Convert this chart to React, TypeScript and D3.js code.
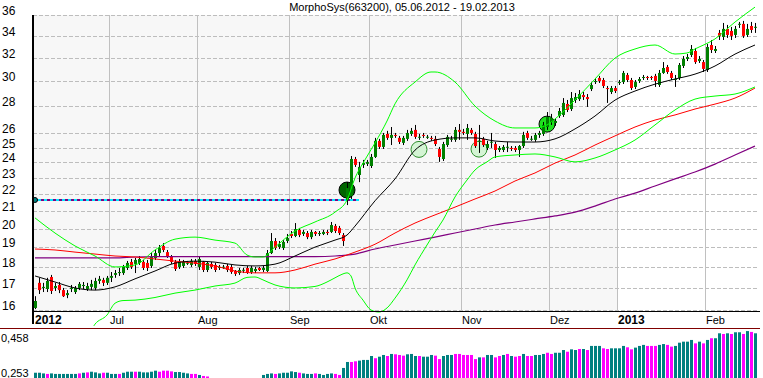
import React from 'react';
import * as d3 from 'd3';

const TITLE = 'MorphoSys(663200), 05.06.2012 - 19.02.2013';
const START = '2012-06-05';
const END = '2013-02-19';
const HOLIDAYS = ['2012-12-24', '2012-12-25', '2012-12-26', '2012-12-31', '2013-01-01'];
const MONTHS_DE = ['Jan', 'Feb', 'Mär', 'Apr', 'Mai', 'Jun', 'Jul', 'Aug', 'Sep', 'Okt', 'Nov', 'Dez'];

const Y_TICKS = [16, 17, 18, 19, 20, 21, 22, 23, 24, 25, 26, 28, 30, 32, 34, 36];
const IND_TICKS = [0.458, 0.253];
const IND_TICK_LABELS = ['0,458', '0,253'];

// OHLC, one value per trading day (Jun, Jul, Aug, Sep, Oct, Nov, Dec, Jan, Feb)
const OPEN = [
  16.09, 17.24, 17.00, 16.95, 17.52, 17.00, 17.14, 16.90, 16.67, 16.95, 16.81, 17.00, 17.09, 16.95, 17.05, 17.00, 17.33, 17.38, 17.24,
  17.48, 17.62, 17.71, 17.71, 17.96, 18.26, 18.16, 18.21, 18.26, 18.21, 18.06, 18.46, 18.71, 19.08, 18.76, 18.51, 18.26, 18.01, 18.06, 18.21, 18.11, 18.31,
  18.01, 18.26, 17.86, 18.16, 18.11, 17.96, 18.01, 18.06, 18.01, 17.81, 17.71, 17.86, 17.96, 17.76, 17.81, 17.96, 17.86, 17.81, 18.71, 19.34, 19.02, 18.97, 19.34,
  19.72, 19.61, 19.94, 19.72, 19.77, 19.55, 19.83, 19.72, 19.72, 19.83, 19.83, 20.16, 20.05, 19.66, 21.65, 21.89, 24.23, 23.19, 23.84, 23.91,
  23.77, 24.37, 25.47, 25.05, 25.96, 25.68, 25.89, 25.68, 25.33, 25.61, 25.96, 26.25, 25.75, 25.89, 25.75, 25.68, 25.61, 24.91, 24.23, 25.18, 25.61, 25.54, 26.25,
  26.11, 25.96, 26.25, 25.96, 25.47, 25.61, 24.98, 25.40, 25.25, 24.84, 24.84, 25.05, 24.98, 24.98, 24.84, 25.11, 26.03, 25.61, 25.54, 25.89, 25.96, 26.46,
  26.83, 26.75, 27.28, 27.35, 28.19, 27.80, 28.50, 28.57, 28.89, 28.73, 29.37, 29.94, 30.28, 30.11, 29.45, 29.13, 29.45,
  29.86, 29.94, 30.53, 30.11, 29.54, 30.03, 30.28, 30.36, 30.36, 30.45, 29.70, 30.70, 31.21, 30.70, 30.19, 30.28, 31.30, 31.90, 32.25, 32.61, 31.72, 31.63,
  30.95, 33.15, 32.61, 34.27, 33.89, 34.65, 34.46, 34.08, 35.13, 35.13, 34.08, 34.93, 34.84,
];
const HIGH = [
  16.62, 17.48, 17.24, 17.48, 17.62, 17.24, 17.28, 17.00, 16.90, 17.14, 17.09, 17.28, 17.28, 17.24, 17.38, 17.48, 17.57, 17.48, 17.57,
  17.76, 17.86, 17.96, 18.11, 18.31, 18.41, 18.46, 18.56, 18.36, 18.36, 18.71, 18.87, 19.13, 19.23, 18.87, 18.61, 18.36, 18.41, 18.36, 18.31, 18.41, 18.41,
  18.51, 18.31, 18.26, 18.26, 18.21, 18.11, 18.11, 18.16, 18.11, 17.86, 17.96, 17.96, 18.06, 18.06, 18.01, 18.01, 18.06, 18.87, 19.77, 19.50, 19.34, 19.39, 19.72,
  19.88, 20.32, 20.05, 19.94, 19.88, 19.94, 19.88, 19.88, 19.94, 19.94, 20.38, 20.27, 20.16, 19.77, 22.74, 24.43, 24.37, 24.04, 24.17, 24.17,
  24.57, 25.68, 25.61, 26.03, 26.18, 26.46, 26.03, 25.82, 25.82, 26.25, 26.39, 26.61, 25.96, 26.03, 25.89, 25.82, 25.82, 25.05, 25.40, 25.89, 25.82, 26.46, 26.68,
  26.32, 26.68, 26.39, 26.11, 26.61, 25.75, 25.47, 26.03, 25.40, 25.11, 25.18, 25.40, 25.11, 25.11, 25.18, 26.11, 26.18, 25.82, 26.03, 26.18, 26.83, 27.57,
  27.43, 27.05, 27.88, 28.65, 28.50, 29.13, 29.05, 29.29, 29.13, 28.97, 29.94, 30.28, 30.45, 30.28, 29.62, 29.62, 29.62,
  30.11, 30.87, 30.70, 30.28, 30.11, 30.36, 30.53, 30.45, 30.45, 30.62, 30.95, 31.63, 31.38, 30.87, 30.53, 31.55, 32.16, 32.34, 33.15, 32.88, 32.16, 31.81,
  33.24, 33.61, 33.06, 34.55, 35.22, 35.03, 34.84, 34.93, 35.32, 35.42, 35.13, 35.32, 35.22,
];
const LOW = [
  16.04, 16.72, 16.81, 16.81, 16.72, 16.86, 16.76, 16.58, 16.53, 16.81, 16.72, 16.90, 16.95, 16.86, 16.90, 16.90, 17.19, 17.09, 17.14,
  17.28, 17.48, 17.57, 17.62, 17.86, 17.91, 17.71, 18.11, 17.86, 17.81, 17.96, 18.36, 18.56, 18.76, 18.46, 18.16, 17.81, 17.91, 17.96, 18.11, 18.01, 18.06,
  17.86, 17.76, 17.76, 17.91, 17.76, 17.86, 17.91, 17.76, 17.67, 17.57, 17.62, 17.71, 17.67, 17.67, 17.71, 17.81, 17.76, 17.76, 18.66, 18.87, 18.92, 18.87, 19.23,
  19.50, 19.55, 19.55, 19.61, 19.44, 19.44, 19.61, 19.61, 19.66, 19.66, 19.77, 19.77, 19.66, 19.08, 21.35, 21.71, 23.71, 22.74, 23.64, 23.77,
  23.64, 24.30, 24.91, 24.91, 25.54, 25.18, 25.68, 25.25, 25.18, 25.47, 25.82, 25.61, 25.54, 25.68, 25.61, 25.47, 25.11, 24.04, 24.10, 25.05, 25.40, 25.40, 25.54,
  25.89, 25.54, 25.89, 24.98, 24.64, 25.05, 24.84, 24.98, 24.30, 24.70, 24.70, 24.70, 24.77, 24.70, 24.37, 24.98, 25.54, 25.47, 25.40, 25.68, 25.82, 26.25,
  26.61, 26.54, 27.13, 27.20, 27.57, 27.65, 28.27, 28.42, 28.50, 27.96, 29.21, 29.78, 29.86, 29.45, 28.27, 28.97, 29.05,
  29.70, 29.78, 29.94, 29.29, 29.37, 29.86, 30.11, 30.11, 30.11, 29.54, 29.54, 30.62, 30.62, 30.11, 29.54, 30.11, 31.12, 31.72, 32.07, 31.47, 31.55, 30.78,
  30.78, 32.43, 32.43, 33.61, 33.61, 33.80, 33.61, 33.80, 34.74, 33.80, 33.89, 34.27, 34.27,
];
const CLOSE = [
  16.40, 16.90, 17.05, 17.33, 16.86, 17.09, 16.90, 16.62, 16.76, 17.00, 17.00, 17.19, 17.14, 17.09, 17.19, 17.33, 17.43, 17.24, 17.48,
  17.57, 17.71, 17.76, 18.01, 18.21, 18.01, 18.36, 18.41, 17.96, 17.96, 18.51, 18.71, 18.97, 18.87, 18.56, 18.26, 17.91, 18.26, 18.26, 18.22, 18.31, 18.16,
  18.41, 17.86, 18.21, 18.01, 17.86, 18.01, 18.02, 17.86, 17.76, 17.67, 17.86, 17.87, 17.76, 17.96, 17.91, 17.86, 17.96, 18.71, 19.34, 18.97, 19.18, 19.29, 19.50,
  19.61, 19.99, 19.66, 19.83, 19.55, 19.83, 19.72, 19.77, 19.83, 19.77, 20.21, 19.88, 19.77, 19.34, 22.37, 24.23, 23.84, 23.71, 23.97, 24.04,
  24.37, 25.47, 25.05, 25.89, 25.68, 25.89, 25.82, 25.40, 25.68, 26.03, 26.18, 25.75, 25.76, 25.82, 25.76, 25.61, 25.25, 24.37, 25.25, 25.75, 25.62, 26.25, 26.11,
  26.03, 26.39, 26.03, 25.11, 25.48, 25.18, 25.25, 25.41, 24.84, 24.98, 25.05, 25.06, 24.91, 24.84, 25.11, 25.89, 25.68, 25.62, 25.89, 26.03, 26.61, 27.20,
  27.13, 26.90, 27.65, 28.27, 27.73, 28.65, 28.73, 28.97, 28.73, 28.57, 29.70, 30.03, 30.03, 29.62, 29.37, 29.45, 29.21,
  29.94, 30.70, 30.11, 29.45, 29.94, 30.19, 30.36, 30.28, 30.28, 30.03, 30.70, 31.12, 30.78, 30.28, 30.20, 31.38, 31.90, 32.07, 32.79, 31.63, 31.90, 31.04,
  32.97, 32.70, 32.79, 33.99, 34.65, 34.08, 33.99, 34.65, 35.14, 33.99, 34.65, 34.55, 34.85,
];

// moving averages, read at every fifth trading day
const SMA_IDX = [0, 5, 10, 15, 20, 25, 30, 35, 40, 45, 50, 55, 60, 65, 70, 75, 80, 85, 90, 95, 100, 105, 110, 115, 120, 125, 130, 135, 140, 145, 150, 155, 160, 165, 170, 175, 180];
const RED_LINE = [18.92, 18.87, 18.76, 18.66, 18.56, 18.51, 18.41, 18.30, 18.20, 18.06, 17.81, 17.72, 17.72, 17.86, 18.15, 18.41, 18.76, 19.17, 19.77, 20.32, 20.78, 21.23, 21.71, 22.19, 22.81, 23.32, 23.96, 24.50, 25.18, 25.82, 26.46, 26.97, 27.35, 27.80, 28.18, 28.65, 29.45];
const PURPLE_LINE = [18.46, 18.46, 18.46, 18.46, 18.46, 18.51, 18.53, 18.53, 18.53, 18.53, 18.53, 18.53, 18.53, 18.53, 18.53, 18.56, 18.66, 18.92, 19.13, 19.34, 19.55, 19.77, 19.99, 20.21, 20.38, 20.55, 20.72, 20.94, 21.29, 21.71, 22.06, 22.50, 22.94, 23.38, 23.89, 24.50, 25.11];
const BLACK_IDX = [0, 5, 10, 15, 20, 25, 30, 35, 40, 45, 50, 55, 60, 65, 70, 75, 78, 80, 85, 90, 95, 100, 105, 110, 115, 120, 125, 130, 135, 140, 145, 150, 155, 160, 165, 170, 175, 180];
const BLACK_LINE = [17.57, 17.28, 17.00, 16.90, 17.05, 17.43, 17.81, 18.20, 18.30, 18.25, 18.11, 18.06, 18.15, 18.56, 19.02, 19.39, 19.66, 20.15, 21.60, 22.94, 24.83, 25.53, 25.68, 25.68, 25.46, 25.39, 25.39, 25.61, 26.32, 27.27, 28.49, 29.21, 29.77, 30.19, 30.60, 31.29, 32.33, 33.15];
const UPPER_IDX = [0, 5, 10, 15, 20, 25, 30, 35, 40, 45, 50, 53, 55, 57, 60, 65, 70, 75, 78, 80, 82, 85, 88, 90, 95, 99, 100, 105, 110, 115, 120, 125, 128, 130, 135, 140, 145, 150, 155, 160, 163, 165, 170, 175, 180];
const UPPER_BAND = [20.61, 19.77, 19.08, 18.56, 18.01, 18.11, 18.87, 19.44, 19.55, 19.39, 19.23, 18.61, 18.51, 18.51, 19.02, 19.88, 20.38, 20.94, 21.65, 23.00, 23.96, 25.32, 26.90, 28.20, 29.94, 30.78, 30.78, 29.94, 28.03, 26.90, 26.39, 26.39, 26.61, 27.05, 28.50, 30.19, 31.98, 32.79, 33.15, 32.34, 32.43, 32.79, 33.71, 35.31, 36.79];
const LOWER_IDX = [0, 5, 10, 14, 15, 18, 20, 22, 25, 30, 35, 40, 45, 50, 53, 55, 57, 60, 65, 70, 73, 75, 77, 78, 79, 80, 82, 84, 86, 88, 90, 93, 95, 98, 100, 102, 105, 108, 110, 113, 115, 120, 125, 130, 135, 140, 145, 150, 155, 160, 165, 170, 175, 180];
const LOWER_BAND = [14.74, 14.82, 14.90, 15.14, 15.39, 15.78, 16.30, 16.42, 16.44, 16.56, 16.76, 16.90, 17.09, 17.23, 17.50, 17.52, 17.38, 17.14, 17.00, 17.07, 17.28, 17.48, 17.67, 17.72, 17.57, 17.00, 16.44, 16.00, 15.91, 16.09, 16.53, 17.38, 18.11, 19.13, 19.82, 20.49, 21.83, 22.87, 23.51, 24.04, 24.37, 24.50, 24.57, 24.37, 24.04, 24.30, 24.84, 25.53, 26.61, 27.73, 28.57, 28.81, 28.97, 29.54];

const GAP_LEVEL = 21.65;
const GAP_END_IDX = 81;

const SIGNAL_IDX = [78, 96, 111, 128];
const SIGNAL_VAL = [22.25, 24.88, 24.90, 26.67];
const SIGNAL_KIND = ['buy', 'hold', 'hold', 'strong'];

// lower panel indicator
const IND = [
  0.278, 0.278, 0.274, 0.271, 0.274, 0.271, 0.271, 0.271, 0.271, 0.271,
  0.271, 0.274, 0.278, 0.280, 0.284, 0.280, 0.274, 0.278, 0.278, 0.271,
  0.271, 0.271, 0.278, 0.284, 0.284, 0.284, 0.284, 0.280, 0.280, 0.284,
  0.290, 0.284, 0.290, 0.290, 0.286, 0.282, 0.282, 0.278, 0.274, 0.271,
  0.271, 0.265, 0.259, 0.256, 0.242, 0.240, 0.238, 0.236, 0.235, 0.234,
  0.234, 0.235, 0.236, 0.238, 0.240, 0.243, 0.247, 0.265, 0.271, 0.274,
  0.271, 0.274, 0.278, 0.278, 0.286, 0.282, 0.278, 0.274, 0.271, 0.271,
  0.274, 0.271, 0.265, 0.271, 0.274, 0.271, 0.265, 0.306, 0.341, 0.341,
  0.345, 0.349, 0.353, 0.353, 0.376, 0.363, 0.372, 0.382, 0.376, 0.388,
  0.386, 0.382, 0.378, 0.386, 0.388, 0.376, 0.376, 0.372, 0.372, 0.382,
  0.378, 0.358, 0.376, 0.382, 0.382, 0.388, 0.388, 0.382, 0.382, 0.382,
  0.358, 0.368, 0.368, 0.382, 0.382, 0.368, 0.376, 0.382, 0.388, 0.376,
  0.372, 0.376, 0.388, 0.376, 0.376, 0.382, 0.382, 0.388, 0.395, 0.388,
  0.395, 0.395, 0.411, 0.401, 0.415, 0.411, 0.417, 0.417, 0.411, 0.435,
  0.435, 0.435, 0.421, 0.417, 0.421, 0.421, 0.421, 0.435, 0.427, 0.415,
  0.425, 0.435, 0.441, 0.435, 0.435, 0.435, 0.441, 0.446, 0.441, 0.431,
  0.435, 0.454, 0.460, 0.460, 0.470, 0.450, 0.460, 0.450, 0.470, 0.480,
  0.480, 0.509, 0.505, 0.509, 0.505, 0.515, 0.515, 0.505, 0.522, 0.517,
  0.509,
];
const IND_DIR =
  'tttmtttttt' + 'tmtmtttmtt' + 'tmtttmtttt' + 'tmmmmttttm' + 'mtmmtttttt' +
  'tttttttttt' + 'mtttttmttt' + 'mttttmmttm' + 'mttttmttmt' + 'mmmtttmttt' +
  'mmtttmmmmm' + 'mtmttmmtmt' + 'mmtmmtttmm' + 'tttmttmtmt' + 'ttmmttttmm' +
  'tttmmmttmm' + 'tttttmtmtm' + 'ttmtmttmtm' + 't';

const FONT = '"Liberation Sans", Arial, sans-serif';

export default function App() {
  const W = 763;
  const H = 378;
  const plotL = 33;
  const plotR = 757;
  const plotT = 15;
  const plotB = 311;
  const n = CLOSE.length;

  const parse = d3.timeParse('%Y-%m-%d');
  const fmt = d3.timeFormat('%Y-%m-%d');
  const hol = new Set(HOLIDAYS);
  const dates = d3.timeDay
    .range(parse(START) as Date, d3.timeDay.offset(parse(END) as Date, 1))
    .filter((d) => d.getDay() !== 0 && d.getDay() !== 6 && !hol.has(fmt(d)));

  const x = d3.scaleLinear().domain([0, 180]).range([35, 755]);
  const y = d3.scaleLog().domain([16, 36]).range([310, 15]);
  const yi = d3.scaleLinear().domain([0.253, 0.458]).range([377, 342]);

  const months: { i: number; label: string; bold: boolean }[] = [];
  months.push({ i: 0, label: String(dates[0].getFullYear()), bold: true });
  for (let i = 1; i < Math.min(n, dates.length); i++) {
    if (dates[i].getMonth() !== dates[i - 1].getMonth()) {
      const m = dates[i].getMonth();
      months.push({ i, label: m === 0 ? String(dates[i].getFullYear()) : MONTHS_DE[m], bold: m === 0 });
    }
  }
  const yearStart = months.find((m) => m.i > 0 && m.bold);
  const shadeEnd = yearStart ? x(yearStart.i - 0.5) : plotR;

  const line = d3
    .line<[number, number]>()
    .x((d) => x(d[0]))
    .y((d) => y(d[1]))
    .curve(d3.curveMonotoneX);
  const mk = (idx: number[], vals: number[]) => line(idx.map((k, j) => [k, vals[j]] as [number, number])) || '';

  const signalStyle: Record<string, { fill: string; stroke: string }> = {
    buy: { fill: '#006400', stroke: '#000000' },
    hold: { fill: '#d4f4d4', stroke: '#2f8f2f' },
    strong: { fill: '#1ee01e', stroke: '#000000' },
  };

  return (
    <svg
      width={W}
      height={H}
      style={{ position: 'absolute', left: 0, top: 0, background: '#ffffff' }}
      fontFamily={FONT}
    >
      <defs>
        <clipPath id="mainClip">
          <rect x={plotL} y={0} width={W - plotL} height={326} />
        </clipPath>
      </defs>
      <rect x={0} y={0} width={W} height={H} fill="#ffffff" />
      {/* year shading */}
      <rect x={plotL} y={plotT} width={shadeEnd - plotL} height={plotB - plotT} fill="#f7f7f7" />

      {/* horizontal grid */}
      {Y_TICKS.map((v) => (
        <line
          key={'g' + v}
          x1={plotL}
          x2={plotR}
          y1={Math.round(y(v)) + 0.5}
          y2={Math.round(y(v)) + 0.5}
          stroke="#bdbdbd"
          strokeDasharray="4,2"
        />
      ))}
      {/* vertical month grid */}
      {months
        .filter((m) => m.i > 0)
        .map((m) => (
          <line
            key={'v' + m.i}
            x1={Math.round(x(m.i - 0.5)) + 0.5}
            x2={Math.round(x(m.i - 0.5)) + 0.5}
            y1={plotT}
            y2={plotB}
            stroke="#c0c0c0"
          />
        ))}

      {/* y labels */}
      {Y_TICKS.map((v) => (
        <text key={'t' + v} x={2} y={Math.round(y(v))} fontSize={12} fill="#000">
          {v}
        </text>
      ))}

      {/* title */}
      <text x={402} y={11} fontSize={11} textAnchor="middle" fill="#000">
        {TITLE}
      </text>

      {/* signal circles */}
      {SIGNAL_IDX.map((k, j) => (
        <circle
          key={'s' + j}
          cx={x(k)}
          cy={y(SIGNAL_VAL[j])}
          r={8}
          fill={signalStyle[SIGNAL_KIND[j]].fill}
          stroke={signalStyle[SIGNAL_KIND[j]].stroke}
          strokeWidth={1}
        />
      ))}

      {/* gap level line */}
      <line x1={x(0)} x2={x(GAP_END_IDX)} y1={y(GAP_LEVEL)} y2={y(GAP_LEVEL)} stroke="#00e5ff" strokeWidth={2} />
      <line
        x1={x(0)}
        x2={x(GAP_END_IDX)}
        y1={y(GAP_LEVEL)}
        y2={y(GAP_LEVEL)}
        stroke="#800080"
        strokeWidth={2}
        strokeDasharray="3,3"
      />
      <circle cx={x(0)} cy={y(GAP_LEVEL)} r={2.5} fill="#008080" stroke="#000" strokeWidth={1} />

      {/* candles */}
      {CLOSE.map((c, i) => {
        const o = OPEN[i];
        const yo = y(o);
        const yc = y(c);
        const top = Math.min(yo, yc);
        const h = Math.max(1, Math.abs(yo - yc));
        const up = c >= o;
        const cx = x(i);
        return (
          <g key={'c' + i}>
            <line x1={cx + 0.5} x2={cx + 0.5} y1={y(HIGH[i])} y2={y(LOW[i])} stroke="#000" strokeWidth={1} />
            <rect x={cx - 1} y={top} width={3} height={h} fill={up ? '#008000' : '#ff0000'} />
          </g>
        );
      })}

      {/* lines */}
      <g clipPath="url(#mainClip)" fill="none">
        <path d={mk(SMA_IDX, PURPLE_LINE)} stroke="#800080" strokeWidth={1.2} />
        <path d={mk(SMA_IDX, RED_LINE)} stroke="#ff0000" strokeWidth={1} />
        <path d={mk(UPPER_IDX, UPPER_BAND)} stroke="#00ff00" strokeWidth={1} />
        <path d={mk(LOWER_IDX, LOWER_BAND)} stroke="#00ff00" strokeWidth={1} />
        <path d={mk(BLACK_IDX, BLACK_LINE)} stroke="#000000" strokeWidth={1} />
      </g>

      {/* axes */}
      <line x1={plotL} x2={760} y1={plotB + 0.5} y2={plotB + 0.5} stroke="#000" />
      <line x1={plotL} x2={plotL} y1={plotT} y2={324} stroke="#000" strokeWidth={2} />

      {/* month labels */}
      {months.map((m) => (
        <text
          key={'m' + m.i}
          x={m.i === 0 ? 35 : Math.round(x(m.i - 0.5)) + 1}
          y={324}
          fontSize={m.bold ? 12 : 11}
          fontWeight={m.bold ? 'bold' : 'normal'}
          fill="#000"
        >
          {m.label}
        </text>
      ))}

      {/* separator */}
      <line x1={0} x2={760} y1={328.5} y2={328.5} stroke="#800000" />

      {/* indicator panel */}
      {IND_TICKS.map((v, j) => (
        <text key={'it' + j} x={1} y={yi(v)} fontSize={11} fill="#000">
          {IND_TICK_LABELS[j]}
        </text>
      ))}
      {IND.map((v, i) => {
        const top = yi(v);
        if (top >= H) return null;
        return (
          <rect
            key={'b' + i}
            x={x(i) - 1}
            y={top}
            width={3}
            height={H - top}
            fill={IND_DIR[i] === 'm' ? '#ff00ff' : '#008080'}
          />
        );
      })}
    </svg>
  );
}
